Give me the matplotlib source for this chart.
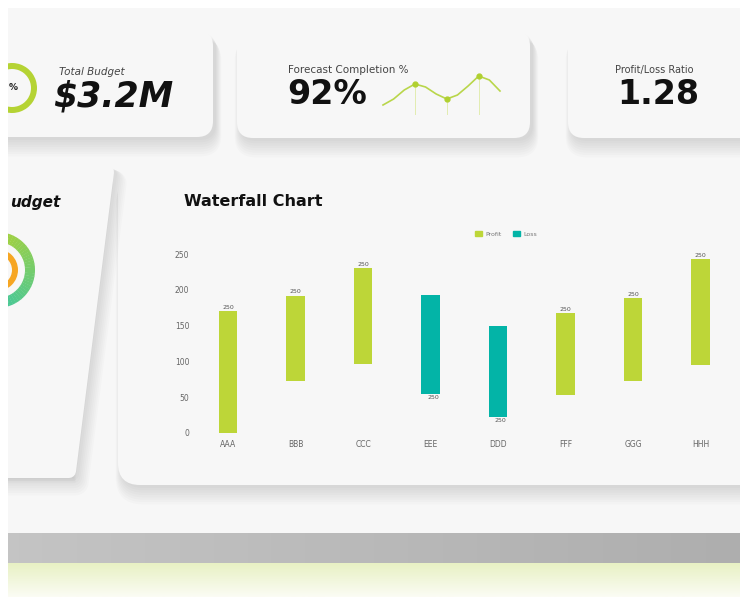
import numpy as np
import matplotlib.pyplot as plt
from matplotlib.patches import FancyBboxPatch, Polygon, Wedge, Patch
from matplotlib.colors import LinearSegmentedColormap

# waterfall chart data
categories = ['AAA', 'BBB', 'CCC', 'EEE', 'DDD', 'FFF', 'GGG', 'HHH']
bar_low = [0, 72, 97, 54, 22, 53, 72, 95]
bar_high = [170, 192, 230, 193, 150, 167, 188, 243]
bar_kind = ['Profit', 'Profit', 'Profit', 'Loss', 'Loss', 'Profit', 'Profit', 'Profit']
bar_labels = ['250', '250', '250', '250', '250', '250', '250', '250']
y_ticks = [0, 50, 100, 150, 200, 250]

# kpi cards
kpi_titles = ['Total Budget', 'Forecast Completion %', 'Profit/Loss Ratio']
kpi_values = ['$3.2M', '92%', '1.28']
budget_pct = 78
spark_vals = [15, 21, 30, 36, 33, 26, 21, 25, 34, 44, 40, 29]
spark_marks = [3, 6, 9]

PROFIT = '#bdd638'
LOSS = '#03b4a7'
CARD = '#f7f7f7'
W, H = 740, 597

fig = plt.figure(figsize=(W / 100, H / 100), dpi=100)
fig.patch.set_facecolor('white')

# background axes in pixel units (y goes down)
bg = fig.add_axes([8 / W, 0, 1 - 8 / W, 1])
bg.axis('off')


def px(v):
    return v * 72 / 100


def card(x0, y0, x1, y1, r=16, dx=3):
    # soft shadow, grows downwards
    for k in range(8):
        g = 1.5 * k
        dy = 3 + 1.6 * k
        bg.add_patch(FancyBboxPatch((x0 + dx - g / 2, y0 + dy - g / 2), x1 - x0 + g, y1 - y0 + g,
                                    boxstyle=f'round,pad=0,rounding_size={r + g / 2}',
                                    fc='k', ec='none', alpha=0.016))
    bg.add_patch(FancyBboxPatch((x0, y0), x1 - x0, y1 - y0,
                                boxstyle=f'round,pad=0,rounding_size={r}', fc=CARD, ec='none'))


# panel
bg.add_patch(plt.Rectangle((8, 8), W, 525, fc=CARD, ec='none'))
gray = LinearSegmentedColormap.from_list('gray', ['#c4c4c4', '#aeaeae'])
bg.imshow(np.linspace(0, 1, 64)[None, :], cmap=gray, extent=(8, W, 563, 533), aspect='auto')
green = LinearSegmentedColormap.from_list('green', ['#e8f1c4', '#fbfcf4'])
bg.imshow(np.linspace(0, 1, 32)[:, None], cmap=green, extent=(8, W, 597, 563), aspect='auto')

# top cards
card(-40, 30, 213, 137)
card(237, 30, 530, 138)
card(568, 30, 800, 138)

# waterfall card
card(118, 168, 800, 485, r=22)

# left card (slanted by the perspective)
verts = [(-40, 172), (107, 172), (69, 471), (-40, 471)]
for k in range(7):
    sh = [(x + 3 + 0.6 * k, y + 3 + 1.4 * k) for x, y in verts]
    bg.add_patch(Polygon(sh, closed=True, fc='k', ec='k', lw=px(14 + 2 * k),
                         joinstyle='round', alpha=0.016))
bg.add_patch(Polygon(verts, closed=True, fc=CARD, ec=CARD, lw=px(14), joinstyle='round'))

# small progress ring in first card (gap on the hidden left side)
gap = (100 - budget_pct) / 100 * 360
bg.add_patch(Wedge((12, 88), 25, 180 + gap / 2, 540 - gap / 2, width=6, fc='#b5d334', ec='none'))
bg.add_patch(Wedge((12, 88), 25, 180 - gap / 2, 180 + gap / 2, width=6, fc='#e6e6e6', ec='none'))
bg.text(17.5, 88, '%', ha='right', va='center', fontsize=6.5, weight='bold', color='#222')

# nested rings in the left card
ring = LinearSegmentedColormap.from_list('ring', ['#a8d13a', '#3fc7a0'])
steps = np.arange(-90, 90, 5)
for i, a in enumerate(steps):
    bg.add_patch(Wedge((-3, 270), 38, a, a + 5.5, width=10, fc=ring(i / len(steps)), ec='none'))
bg.add_patch(Wedge((-3, 270), 21, -90, 90, width=6, fc='#f6a623', ec='none'))
bg.text(60, 202, 'udget', ha='right', va='center', fontsize=11, weight='bold',
        style='italic', color='#111')

# kpi texts
bg.text(59, 72, kpi_titles[0], fontsize=7.5, style='italic', color='#444', va='center')
bg.text(53, 96, kpi_values[0], fontsize=25, weight='bold', style='italic', color='#111', va='center')
bg.text(288, 70, kpi_titles[1], fontsize=7.5, color='#444', va='center')
bg.text(287, 95, kpi_values[1], fontsize=24, weight='bold', color='#111', va='center')
bg.text(615, 70, kpi_titles[2], fontsize=7, color='#444', va='center')
bg.text(617, 95, kpi_values[2], fontsize=24, weight='bold', color='#111', va='center')

bg.text(184, 202, 'Waterfall Chart', fontsize=11.5, weight='bold', color='#111', va='center')

bg.set_xlim(8, W)
bg.set_ylim(H, 0)

# sparkline
sp = fig.add_axes([383 / W, (H - 115) / H, 117 / W, 45 / H])
sp.axis('off')
sx = np.arange(len(spark_vals))
sp.plot(sx, spark_vals, color='#b9d64a', lw=1.2, clip_on=False)
mv = [spark_vals[i] for i in spark_marks]
sp.vlines(spark_marks, 5, mv, color='#e2ecb0', lw=0.7)
sp.plot(spark_marks, mv, 'o', color='#b0d030', ms=3.5, clip_on=False)
sp.set_xlim(0, len(spark_vals) - 1)
sp.set_ylim(5, 50)

# waterfall axes
x0px, step = 228, 67.5
ax = fig.add_axes([195 / W, (H - 433) / H, (738 - 195) / W, (433 - 254) / H])
ax.set_facecolor('none')
xs = np.arange(len(categories))
colors = [PROFIT if k == 'Profit' else LOSS for k in bar_kind]
heights = [h - l for l, h in zip(bar_low, bar_high)]
ax.bar(xs, heights, bottom=bar_low, width=0.27, color=colors)
for x, l, h, k, t in zip(xs, bar_low, bar_high, bar_kind, bar_labels):
    if k == 'Profit':
        ax.text(x, h + 1.5, t, ha='center', va='bottom', fontsize=4.5, color='#555')
    else:
        ax.text(x + 0.04, l - 1.5, t, ha='center', va='top', fontsize=4.5, color='#555')
ax.set_xlim((195 - x0px) / step, (738 - x0px) / step)
ax.set_ylim(0, 250)
ax.set_xticks(xs)
ax.set_xticklabels(categories)
ax.set_yticks(y_ticks)
ax.tick_params(length=0, labelsize=5.5, labelcolor='#666')
ax.tick_params(axis='x', pad=5)
ax.tick_params(axis='y', pad=4)
for s in ax.spines.values():
    s.set_visible(False)

handles = [Patch(color=PROFIT, label='Profit'), Patch(color=LOSS, label='Loss')]
leg = fig.legend(handles=handles, loc='center', bbox_to_anchor=(506 / W, 1 - 234 / H), ncol=2,
                 frameon=False, fontsize=4.5, handlelength=1.1, handleheight=0.7,
                 columnspacing=1.8, handletextpad=0.6)
for t in leg.get_texts():
    t.set_color('#777')

plt.savefig('out.png', dpi=100, facecolor=fig.get_facecolor())
